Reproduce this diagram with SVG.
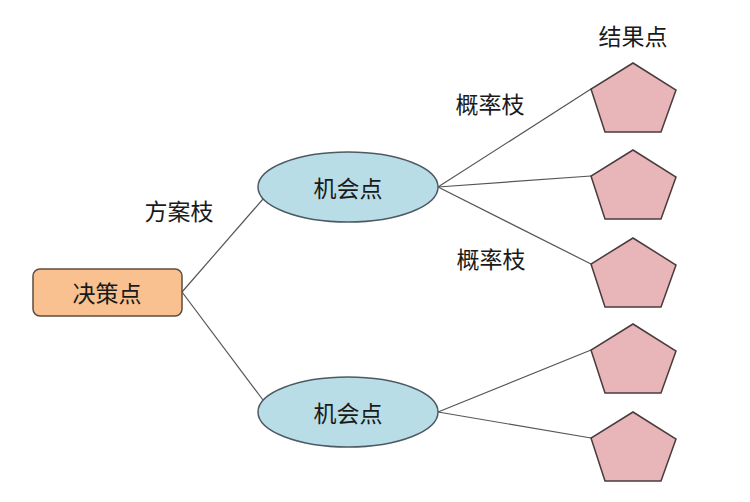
<svg xmlns="http://www.w3.org/2000/svg" width="750" height="502" viewBox="0 0 750 502">
<style>
text{font-family:"Noto Sans CJK SC","Liberation Sans",sans-serif;font-size:23px;fill:#1a1a1a;text-anchor:middle;dominant-baseline:central}
.e{fill:#b9dde6;stroke:#4d5a63;stroke-width:1.5}
.p{fill:#e8b5b8;stroke:#4a3c3c;stroke-width:1.5}
.c{stroke:#555;stroke-width:1.2;fill:none}
</style>
<defs>
<polygon id="pent" points="0,-26 43,1 28,43 -28,43 -42,0"/>
</defs>
<rect width="750" height="502" fill="#ffffff"/>
<g id="connectors">
<line class="c" x1="182" y1="292" x2="263" y2="199"/>
<line class="c" x1="182" y1="292" x2="263" y2="400"/>
<line class="c" x1="438" y1="187" x2="591" y2="89"/>
<line class="c" x1="438" y1="187" x2="591" y2="176" stroke-width="1.8"/>
<line class="c" x1="438" y1="187" x2="591" y2="264"/>
<line class="c" x1="438" y1="412" x2="591" y2="350"/>
<line class="c" x1="438" y1="412" x2="591" y2="438"/>
</g>
<g id="decision">
<rect x="33" y="269" width="149" height="47" rx="7" fill="#f9c190" stroke="#5e4c3e" stroke-width="1.5"/>
<text x="107" y="292">决策点</text>
</g>
<g id="chance1">
<ellipse class="e" cx="348" cy="187" rx="90" ry="35"/>
<text x="348" y="187">机会点</text>
</g>
<g id="chance2">
<ellipse class="e" cx="348" cy="412" rx="90" ry="35"/>
<text x="348" y="412">机会点</text>
</g>
<g id="result1"><use href="#pent" class="p" x="633" y="89"/></g>
<g id="result2"><use href="#pent" class="p" x="633" y="176"/></g>
<g id="result3"><use href="#pent" class="p" x="633" y="264"/></g>
<g id="result4"><use href="#pent" class="p" x="633" y="350"/></g>
<g id="result5"><use href="#pent" class="p" x="633" y="438"/></g>
<g id="labels">
<text x="179" y="210">方案枝</text>
<text x="490" y="103">概率枝</text>
<text x="491" y="258">概率枝</text>
<text x="633" y="35">结果点</text>
</g>
</svg>
